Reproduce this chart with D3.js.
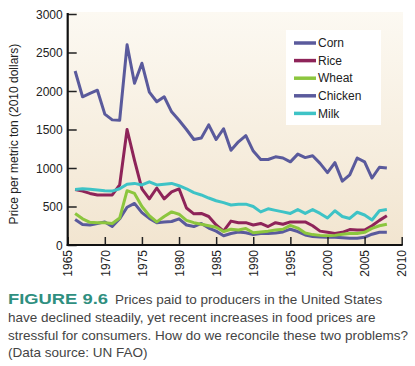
<!DOCTYPE html>
<html>
<head>
<meta charset="utf-8">
<script src="https://cdn.jsdelivr.net/npm/d3@7"></script>
<style>
  body { margin: 0; background: #fff; }
  text { font-family: "Liberation Sans", Arial, sans-serif; }
</style>
</head>
<body>
<div id="chart"></div>
<script>
const years = d3.range(1966, 2009);

const corn = [2260, 1925, 1970, 2010, 1700, 1625, 1620, 2600, 2100, 2360, 1985, 1860, 1925, 1730, 1620,
  1500, 1370, 1390, 1560, 1370, 1510, 1230, 1340, 1420, 1220, 1110, 1110, 1145, 1130, 1080,
  1180, 1135, 1160, 1060, 940, 1070, 830, 910, 1130, 1080, 870, 1010, 1000];
const rice = [720, 700, 670, 650, 650, 650, 780, 1500, 1100, 730, 600, 740, 600, 690, 730,
  480, 405, 410, 370, 260, 180, 310, 290, 290, 260, 280, 240, 290, 270, 300,
  300, 300, 250, 180, 165, 150, 165, 200, 195, 195, 250, 320, 380];
const wheat = [410, 340, 295, 290, 290, 280, 350, 705, 670, 500, 380, 300, 370, 430, 400,
  320, 290, 270, 250, 230, 175, 205, 195, 215, 160, 170, 180, 195, 205, 255,
  220, 155, 135, 125, 120, 125, 140, 150, 150, 165, 215, 250, 270];
const chicken = [330, 265, 260, 280, 300, 240, 340, 490, 540, 420, 345, 290, 300, 305, 340,
  260, 240, 280, 220, 180, 120, 150, 170, 160, 135, 150, 150, 155, 170, 205,
  175, 130, 110, 105, 100, 100, 95, 88, 88, 100, 140, 165, 165];
const milk = [720, 730, 725, 715, 705, 700, 730, 790, 800, 780, 820, 780, 790, 800, 770,
  730, 680, 650, 610, 575, 550, 520, 530, 530, 500, 430, 470, 450, 430, 410,
  460, 410, 460, 410, 350, 445, 370, 345, 425, 390, 325, 445, 460];

const seriesNames = ["Corn", "Rice", "Wheat", "Chicken", "Milk"];
const seriesColors = ["#5a5a9c", "#8e2459", "#8cc63e", "#5a5a9c", "#3ec3c6"];
const seriesValues = [corn, rice, wheat, chicken, milk];
const drawOrder = [3, 1, 2, 4, 0];

const yTicks = [0, 500, 1000, 1500, 2000, 2500, 3000];
const xTicks = [1965, 1970, 1975, 1980, 1985, 1990, 1995, 2000, 2005, 2010];

const captionLines = [
  "have declined steadily, yet recent increases in food prices are",
  "stressful for consumers. How do we reconcile these two problems?",
  "(Data source: UN FAO)"
];

const width = 415;
const height = 366;
const plotLeft = 67.7;
const plotRight = 401.7;
const plotTop = 14;
const plotBottom = 245;

const xScale = d3.scaleLinear().domain([1965, 2010]).range([plotLeft, plotRight]);
const yScale = d3.scaleLinear().domain([0, 3000]).range([plotBottom, plotTop]);

const svg = d3.select("#chart")
  .append("svg")
  .attr("width", width)
  .attr("height", height);

const grad = svg.append("defs")
  .append("linearGradient")
  .attr("id", "bg")
  .attr("x1", 0).attr("y1", 0)
  .attr("x2", 0).attr("y2", 1);
grad.append("stop").attr("offset", "0%").attr("stop-color", "#fcf9f2");
grad.append("stop").attr("offset", "100%").attr("stop-color", "#f2e5d0");

svg.append("rect")
  .attr("x", plotLeft)
  .attr("y", 12)
  .attr("width", 403 - plotLeft)
  .attr("height", plotBottom - 12)
  .attr("fill", "url(#bg)");

const line = d3.line()
  .x((d, i) => xScale(years[i]))
  .y(d => yScale(d));

svg.selectAll("path.series")
  .data(drawOrder)
  .enter()
  .append("path")
  .attr("class", "series")
  .attr("d", k => line(seriesValues[k]))
  .attr("fill", "none")
  .attr("stroke", k => seriesColors[k])
  .attr("stroke-width", 3)
  .attr("stroke-linejoin", "round");

const yAxis = d3.axisRight(yScale)
  .tickValues(yTicks)
  .tickSize(9)
  .tickFormat("");
const yg = svg.append("g")
  .attr("transform", `translate(${plotLeft}, 0)`)
  .call(yAxis);
yg.select(".domain").remove();
yg.selectAll(".tick line").attr("stroke", "#222").attr("stroke-width", 1.5);

yg.selectAll(".tick")
  .append("text")
  .attr("x", -5)
  .attr("dy", "0.35em")
  .attr("text-anchor", "end")
  .attr("fill", "#222")
  .style("font-size", "12px")
  .text(d => d);

const xAxis = d3.axisTop(xScale)
  .tickValues(xTicks)
  .tickSize(8)
  .tickFormat("");
const xg = svg.append("g")
  .attr("transform", `translate(0, ${plotBottom})`)
  .call(xAxis);
xg.select(".domain").remove();
xg.selectAll(".tick line").attr("stroke", "#222").attr("stroke-width", 1.5);

xg.selectAll(".tick")
  .append("text")
  .attr("transform", "rotate(-90)")
  .attr("x", -5)
  .attr("y", 0)
  .attr("dy", "0.35em")
  .attr("text-anchor", "end")
  .attr("fill", "#222")
  .style("font-size", "12px")
  .text(d => d);

svg.append("line")
  .attr("x1", plotLeft).attr("x2", plotLeft)
  .attr("y1", 13).attr("y2", plotBottom + 1)
  .attr("stroke", "#111").attr("stroke-width", 2.2);
svg.append("line")
  .attr("x1", plotLeft - 1).attr("x2", plotRight + 1)
  .attr("y1", plotBottom).attr("y2", plotBottom)
  .attr("stroke", "#111").attr("stroke-width", 2.2);

svg.append("text")
  .attr("transform", `translate(18, 134) rotate(-90)`)
  .attr("text-anchor", "middle")
  .attr("fill", "#222")
  .style("font-size", "12px")
  .text("Price per metric ton (2010 dollars)");

// legend
const legend = svg.append("g");
legend.append("rect")
  .attr("x", 286).attr("y", 30)
  .attr("width", 95).attr("height", 95)
  .attr("fill", "#fff");

const items = legend.selectAll("g.item")
  .data(seriesNames)
  .enter()
  .append("g")
  .attr("class", "item")
  .attr("transform", (d, i) => `translate(294, ${43 + i * 17.6})`);
items.append("line")
  .attr("x1", 0).attr("x2", 22)
  .attr("stroke", (d, i) => seriesColors[i])
  .attr("stroke-width", 3.5);
items.append("text")
  .attr("x", 24)
  .attr("dy", "0.35em")
  .attr("fill", "#222")
  .style("font-size", "12px")
  .text(d => d);

// caption
svg.append("text")
  .attr("x", 8).attr("y", 304)
  .attr("fill", "#2f8f7f")
  .style("font-size", "15px")
  .style("font-weight", "bold")
  .attr("textLength", 100)
  .attr("lengthAdjust", "spacingAndGlyphs")
  .text("FIGURE 9.6");
svg.append("text")
  .attr("x", 115).attr("y", 304)
  .attr("fill", "#444")
  .style("font-size", "13.5px")
  .text("Prices paid to producers in the United States");

svg.selectAll("text.cap")
  .data(captionLines)
  .enter()
  .append("text")
  .attr("class", "cap")
  .attr("x", 8)
  .attr("y", (d, i) => 322 + i * 17.6)
  .attr("fill", "#444")
  .style("font-size", "13.5px")
  .text(d => d);
</script>
</body>
</html>
